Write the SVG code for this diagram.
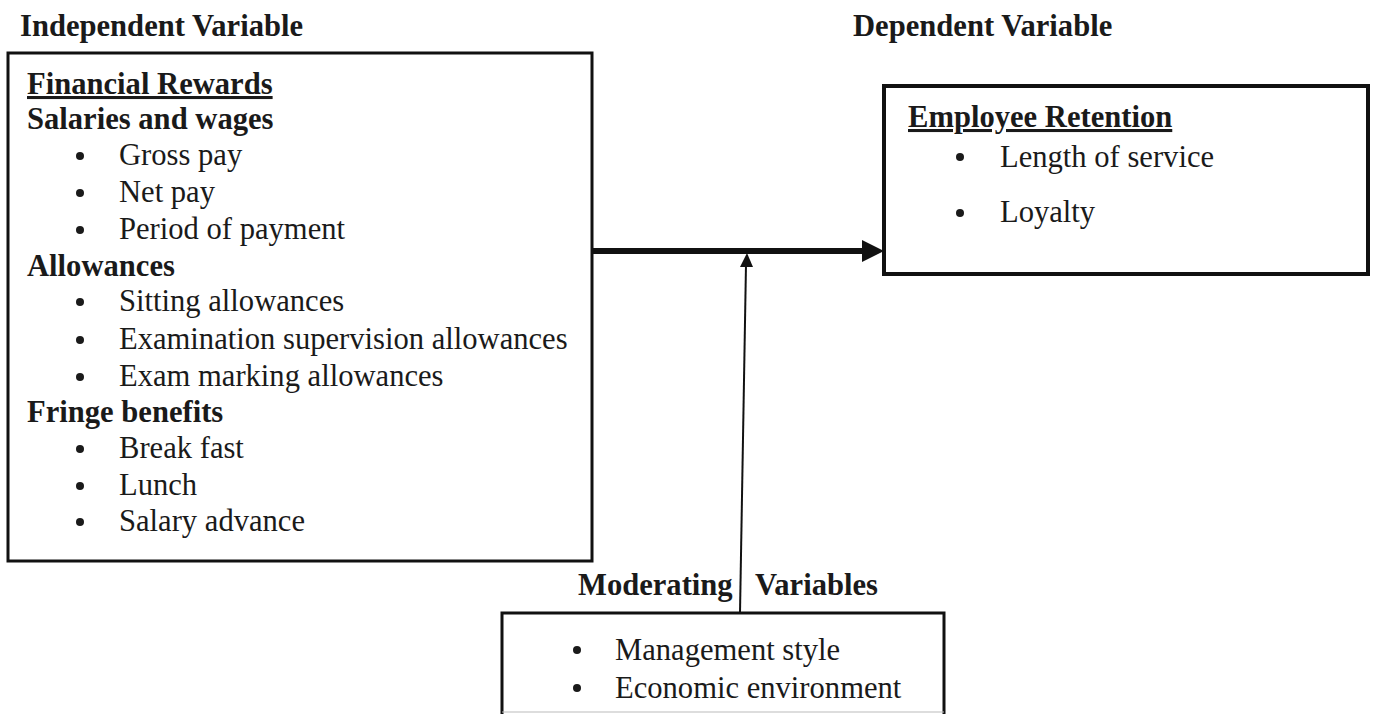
<svg xmlns="http://www.w3.org/2000/svg" width="1374" height="714" viewBox="0 0 1374 714">
<defs>
<style>
text{font-family:"Liberation Serif","Times New Roman",serif;font-size:30.6px;fill:#1a1a1a}
.b{font-weight:bold}
.u{text-decoration:underline}
.box{fill:#fff;stroke:#111;stroke-width:3}
.dot{fill:#1a1a1a}
</style>
</defs>
<rect width="1374" height="714" fill="#fff"/>
<text id="lbl-indep" class="b" x="20" y="36">Independent Variable</text>
<text id="lbl-dep" class="b" x="853" y="36">Dependent Variable</text>

<g id="node-financial">
<rect class="box" x="8" y="53" width="584" height="508"/>
<text class="b u" x="27" y="94">Financial Rewards</text>
<text class="b" x="27" y="129">Salaries and wages</text>
<circle class="dot" cx="80" cy="156" r="4"/><text x="119" y="165">Gross pay</text>
<circle class="dot" cx="80" cy="193" r="4"/><text x="119" y="202">Net pay</text>
<circle class="dot" cx="80" cy="230" r="4"/><text x="119" y="239">Period of payment</text>
<text class="b" x="27" y="276">Allowances</text>
<circle class="dot" cx="80" cy="302" r="4"/><text x="119" y="311">Sitting allowances</text>
<circle class="dot" cx="80" cy="340" r="4"/><text x="119" y="349">Examination supervision allowances</text>
<circle class="dot" cx="80" cy="377" r="4"/><text x="119" y="386">Exam marking allowances</text>
<text class="b" x="27" y="422">Fringe benefits</text>
<circle class="dot" cx="80" cy="449" r="4"/><text x="119" y="458">Break fast</text>
<circle class="dot" cx="80" cy="486" r="4"/><text x="119" y="495">Lunch</text>
<circle class="dot" cx="80" cy="522" r="4"/><text x="119" y="531">Salary advance</text>
</g>

<g id="node-retention">
<rect class="box" x="884" y="86" width="484" height="188" style="stroke-width:4"/>
<text class="b u" x="908" y="127">Employee Retention</text>
<circle class="dot" cx="960" cy="157" r="4"/><text x="1000" y="167">Length of service</text>
<circle class="dot" cx="960" cy="213" r="4"/><text x="1000" y="222">Loyalty</text>
</g>

<g id="node-moderating">
<text class="b" x="578" y="595">Moderating</text>
<text class="b" x="755" y="595">Variables</text>
<path d="M502,716 V613 H944 V716" fill="#fff" stroke="#111" stroke-width="3"/>
<line x1="502" y1="712" x2="944" y2="712" stroke="#bbb" stroke-width="1"/>
<circle class="dot" cx="577" cy="650" r="4"/><text x="615" y="660">Management style</text>
<circle class="dot" cx="577" cy="688" r="4"/><text x="615" y="698">Economic environment</text>
</g>

<g id="connectors">
<line x1="592" y1="251" x2="864" y2="251" stroke="#111" stroke-width="6"/>
<polygon points="862,240 884,251 862,262" fill="#111"/>
<line x1="740" y1="613" x2="746" y2="264" stroke="#111" stroke-width="2"/>
<polygon points="740,267 747,253 753,267" fill="#111"/>
</g>
</svg>
